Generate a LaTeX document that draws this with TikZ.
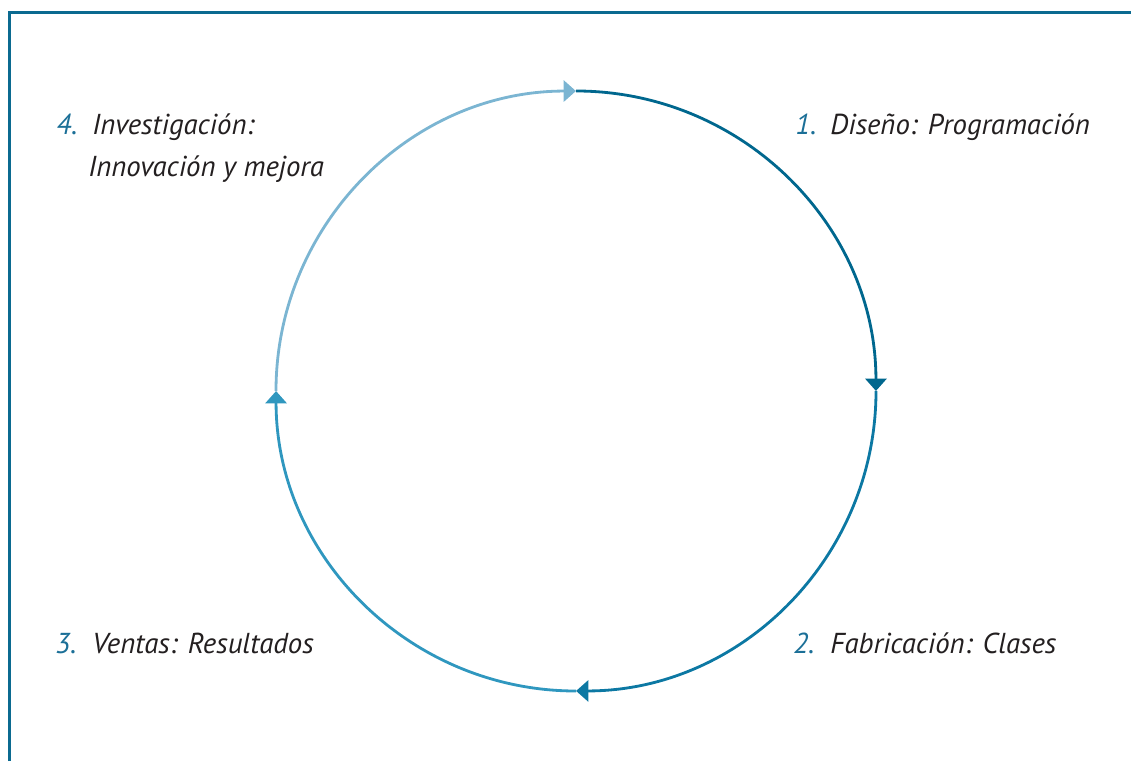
\documentclass[tikz,border=0pt]{standalone}
\usepackage{fontspec}
\setmainfont{PT Sans}
\usetikzlibrary{arrows.meta}

\definecolor{framec}{HTML}{0B6A90}
\definecolor{arcone}{HTML}{00678E}
\definecolor{arctwo}{HTML}{0C78A3}
\definecolor{arcthree}{HTML}{2F97BF}
\definecolor{arcfour}{HTML}{7BB5D2}
\definecolor{numc}{HTML}{1B6F97}
\definecolor{txtc}{HTML}{231F20}

\tikzset{
  cyc/.style={line width=1.6pt, -{Triangle[length=7pt,width=12pt]}},
  numlab/.style={anchor=base west, inner sep=0pt, text=numc,
                 font=\fontsize{16.4}{20}\selectfont\itshape},
  txtlab/.style={anchor=base west, inner sep=0pt, text=txtc,
                 font=\fontsize{16.4}{20}\selectfont\itshape},
}

\begin{document}
\begin{tikzpicture}[x=0.02cm, y=0.02cm]

\useasboundingbox (0,0) rectangle (1131,761);

% ===============================================================
% Frame: left and top edges
% ===============================================================

\draw[framec, line width=1.7pt] (9.5,0) -- (9.5,748.5) -- (1131,748.5);

% ===============================================================
% Cycle: four quarter arcs
% ===============================================================

\coordinate (ctop)    at (576,670);
\coordinate (cright)  at (876,370);
\coordinate (cbottom) at (576,70);
\coordinate (cleft)   at (276,370);

\draw[cyc, arcone]   (ctop)    arc[start angle=90,  end angle=0,   radius=6cm];
\draw[cyc, arctwo]   (cright)  arc[start angle=0,   end angle=-90, radius=6cm];
\draw[cyc, arcthree] (cbottom) arc[start angle=270, end angle=180, radius=6cm];
\draw[cyc, arcfour]  (cleft)   arc[start angle=180, end angle=90,  radius=6cm];

% ===============================================================
% Labels
% ===============================================================

% 1 (top right)
\node[numlab] (num1) at (795,626) {1.};
\node[txtlab] (lab1) at (830,626) {Diseño: Programación};

% 2 (bottom right)
\node[numlab] (num2) at (793,108) {2.};
\node[txtlab] (lab2) at (830,108) {Fabricación: Clases};

% 3 (bottom left)
\node[numlab] (num3) at (55,108) {3.};
\node[txtlab] (lab3) at (92,108) {Ventas: Resultados};

% 4 (top left)
\node[numlab] (num4) at (56,626) {4.};
\node[txtlab] (lab4) at (92,626) {Investigación:};
\node[txtlab] (lab4b) at (88,584) {Innovación y mejora};

\end{tikzpicture}
\end{document}
